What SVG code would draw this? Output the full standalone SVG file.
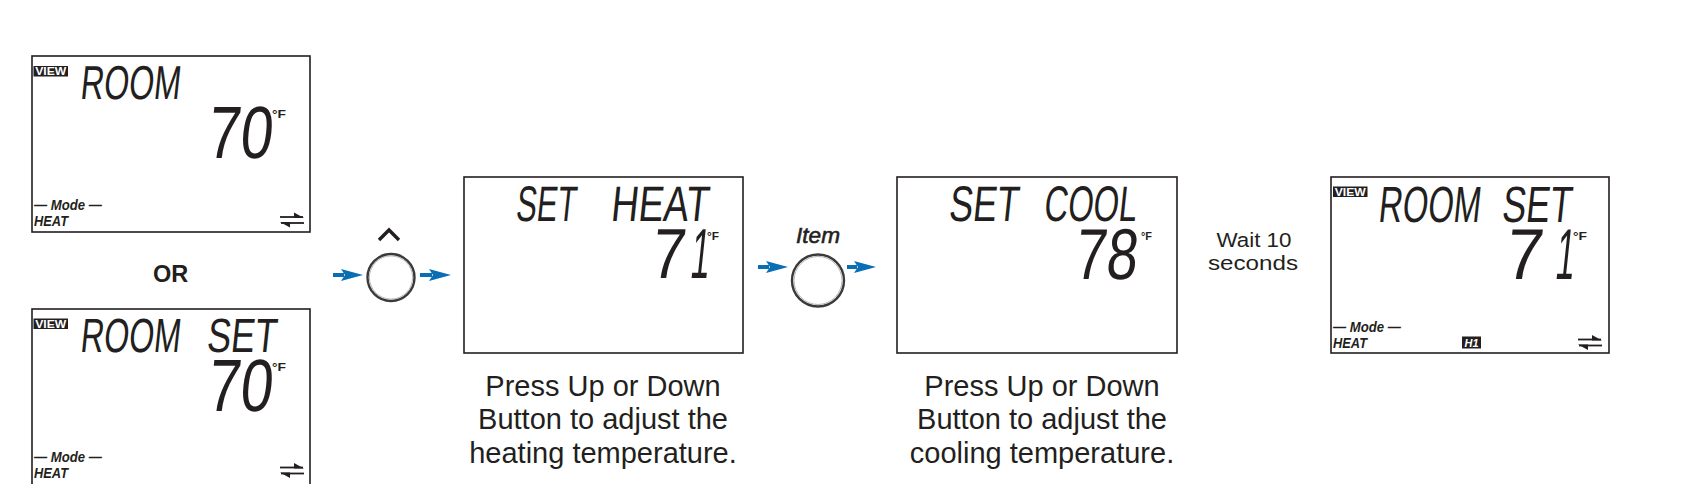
<svg xmlns="http://www.w3.org/2000/svg" xmlns:xlink="http://www.w3.org/1999/xlink" width="1689" height="484" viewBox="0 0 1689 484">
<style>
  .box { fill: #ffffff; stroke: #231f20; stroke-width: 1.6; }
  .lcd { font-family: "Liberation Sans", Arial, sans-serif; fill: #231f20; }
  .deg { font-family: "Liberation Sans", Arial, sans-serif; font-weight: bold; font-size: 11px; fill: #231f20; }
  .mode { font-family: "Liberation Sans", Arial, sans-serif; font-weight: bold; font-style: italic; fill: #231f20; }
  .badge { fill: #231f20; }
  .badgetxt { font-family: "Liberation Sans", Arial, sans-serif; font-weight: bold; font-size: 10.5px; fill: #ffffff; text-anchor: middle; }
  .cap { font-family: "Liberation Sans", Arial, sans-serif; font-size: 29px; fill: #231f20; text-anchor: middle; }
  .lbl { font-family: "Liberation Sans", Arial, sans-serif; fill: #231f20; text-anchor: middle; }
  .arrow { stroke: #0a6eb4; stroke-width: 4; fill: none; marker-end: url(#ah); }
  .btn { fill: #ffffff; stroke: #3a3a3a; stroke-width: 2.4; }
  .btnin { fill: none; stroke: #b5b5b5; stroke-width: 1; }
  .swap { stroke: #231f20; stroke-width: 1.8; fill: none; }
</style>
<defs>
  <marker id="ah" viewBox="0 0 22 12" markerWidth="22" markerHeight="12" refX="3" refY="6" orient="auto" markerUnits="userSpaceOnUse">
    <path d="M0,0 L22,6 L0,12 L4,6 Z" fill="#0a6eb4"/>
  </marker>
  <g id="swapicon">
    <line class="swap" x1="0" y1="0" x2="23" y2="0"/>
    <polygon points="24,0.9 14,-4.5 14,0.9" fill="#231f20"/>
    <line class="swap" x1="1" y1="6" x2="24" y2="6"/>
    <polygon points="0,5.1 10,10.5 10,5.1" fill="#231f20"/>
  </g>
</defs>

<rect x="0" y="0" width="1689" height="484" fill="#ffffff"/>

<g id="display-room">
  <rect class="box" x="32" y="56" width="278" height="176"/>
  <rect class="badge" x="33.5" y="66" width="34.5" height="10.5"/>
  <text class="badgetxt" x="50.7" y="75.3" textLength="31" lengthAdjust="spacingAndGlyphs">VIEW</text>
  <text class="lcd" transform="translate(79.5,99) skewX(-6)" font-size="47.5" textLength="100" lengthAdjust="spacingAndGlyphs">ROOM</text>
  <text class="lcd" transform="translate(206,158) skewX(-6)" font-size="74" textLength="65" lengthAdjust="spacingAndGlyphs">70</text>
  <text class="deg" x="272" y="118" textLength="14" lengthAdjust="spacingAndGlyphs">°F</text>
  <text class="mode" x="34" y="210" font-size="14.5" textLength="68" lengthAdjust="spacingAndGlyphs">— Mode —</text>
  <text class="mode" x="34" y="226" font-size="15" textLength="34" lengthAdjust="spacingAndGlyphs">HEAT</text>
  <use xlink:href="#swapicon" x="280" y="217"/>
</g>

<g id="or-label">
  <text class="lbl" x="170.5" y="282" font-size="23.5" font-weight="bold">OR</text>
</g>

<g id="display-room-set">
  <rect class="box" x="32" y="309" width="278" height="185"/>
  <rect class="badge" x="33.5" y="318.5" width="34.5" height="10.5"/>
  <text class="badgetxt" x="50.7" y="327.8" textLength="31" lengthAdjust="spacingAndGlyphs">VIEW</text>
  <text class="lcd" transform="translate(79.5,352) skewX(-6)" font-size="48" textLength="100" lengthAdjust="spacingAndGlyphs">ROOM</text>
  <text class="lcd" transform="translate(206,352) skewX(-6)" font-size="48" textLength="69.5" lengthAdjust="spacingAndGlyphs">SET</text>
  <text class="lcd" transform="translate(206,411) skewX(-6)" font-size="74" textLength="65" lengthAdjust="spacingAndGlyphs">70</text>
  <text class="deg" x="272" y="371" textLength="14" lengthAdjust="spacingAndGlyphs">°F</text>
  <text class="mode" x="34" y="462" font-size="14.5" textLength="68" lengthAdjust="spacingAndGlyphs">— Mode —</text>
  <text class="mode" x="34" y="478" font-size="15" textLength="34" lengthAdjust="spacingAndGlyphs">HEAT</text>
  <use xlink:href="#swapicon" x="280" y="467.5"/>
</g>

<g id="up-button">
  <path d="M379,240 L389,230 L399,240" fill="none" stroke="#231f20" stroke-width="3.4" stroke-linejoin="miter"/>
  <circle class="btn" cx="391" cy="277.5" r="23.5"/>
  <circle class="btnin" cx="391" cy="277.5" r="21.6"/>
</g>

<g id="display-set-heat">
  <rect class="box" x="464" y="177" width="279" height="176"/>
  <text class="lcd" transform="translate(515,221) skewX(-6)" font-size="50" textLength="60" lengthAdjust="spacingAndGlyphs">SET</text>
  <text class="lcd" transform="translate(610,221) skewX(-6)" font-size="50" textLength="97.7" lengthAdjust="spacingAndGlyphs">HEAT</text>
  <text class="lcd" transform="translate(650,278) skewX(-6)" font-size="71" textLength="33.4" lengthAdjust="spacingAndGlyphs">7</text>
  <text class="lcd" transform="translate(689,278) skewX(-6)" font-size="71" textLength="19" lengthAdjust="spacingAndGlyphs">1</text>
  <text class="deg" x="707" y="240" textLength="12" lengthAdjust="spacingAndGlyphs">°F</text>
</g>

<g id="caption-heat">
  <text class="cap" x="603" y="395.5">Press Up or Down</text>
  <text class="cap" x="603" y="429">Button to adjust the</text>
  <text class="cap" x="603" y="462.5">heating temperature.</text>
</g>

<g id="item-button">
  <text class="lbl" x="818" y="243" font-size="22.5" font-style="italic" stroke="#231f20" stroke-width="0.6" textLength="44" lengthAdjust="spacingAndGlyphs">Item</text>
  <circle class="btn" cx="818" cy="280.5" r="26"/>
  <circle class="btnin" cx="818" cy="280.5" r="24"/>
</g>

<g id="display-set-cool">
  <rect class="box" x="897" y="177" width="280" height="176"/>
  <text class="lcd" transform="translate(948,221) skewX(-6)" font-size="50" textLength="69.5" lengthAdjust="spacingAndGlyphs">SET</text>
  <text class="lcd" transform="translate(1043,221) skewX(-6)" font-size="50" textLength="92.8" lengthAdjust="spacingAndGlyphs">COOL</text>
  <text class="lcd" transform="translate(1073.5,279) skewX(-6)" font-size="72" textLength="62.4" lengthAdjust="spacingAndGlyphs">78</text>
  <text class="deg" x="1141" y="240" textLength="11" lengthAdjust="spacingAndGlyphs">°F</text>
</g>

<g id="caption-cool">
  <text class="cap" x="1042" y="395.5">Press Up or Down</text>
  <text class="cap" x="1042" y="429">Button to adjust the</text>
  <text class="cap" x="1042" y="462.5">cooling temperature.</text>
</g>

<g id="wait-label">
  <text class="lbl" x="1254" y="247" font-size="20.5" textLength="75" lengthAdjust="spacingAndGlyphs">Wait 10</text>
  <text class="lbl" x="1253" y="270" font-size="20.5" textLength="90" lengthAdjust="spacingAndGlyphs">seconds</text>
</g>

<g id="display-room-set-final">
  <rect class="box" x="1331" y="177" width="278" height="176"/>
  <rect class="badge" x="1333" y="186.5" width="34.5" height="10.5"/>
  <text class="badgetxt" x="1350.2" y="195.8" textLength="31" lengthAdjust="spacingAndGlyphs">VIEW</text>
  <text class="lcd" transform="translate(1377.5,222) skewX(-6)" font-size="51" textLength="102" lengthAdjust="spacingAndGlyphs">ROOM</text>
  <text class="lcd" transform="translate(1501,222) skewX(-6)" font-size="51" textLength="69.5" lengthAdjust="spacingAndGlyphs">SET</text>
  <text class="lcd" transform="translate(1504,279) skewX(-6)" font-size="72" textLength="37" lengthAdjust="spacingAndGlyphs">7</text>
  <text class="lcd" transform="translate(1554,279) skewX(-6)" font-size="72" textLength="19" lengthAdjust="spacingAndGlyphs">1</text>
  <text class="deg" x="1573" y="240" textLength="14" lengthAdjust="spacingAndGlyphs">°F</text>
  <text class="mode" x="1333" y="331.5" font-size="14.5" textLength="68" lengthAdjust="spacingAndGlyphs">— Mode —</text>
  <text class="mode" x="1333" y="347.5" font-size="15" textLength="34" lengthAdjust="spacingAndGlyphs">HEAT</text>
  <rect class="badge" x="1462" y="336.5" width="19" height="12"/>
  <text class="badgetxt" x="1471.5" y="346.8" font-style="italic" font-size="11.5" textLength="14" lengthAdjust="spacingAndGlyphs">H1</text>
  <use xlink:href="#swapicon" x="1578" y="339.5"/>
</g>

<g id="connectors">
  <line class="arrow" x1="333" y1="275" x2="344" y2="275"/>
  <line class="arrow" x1="420" y1="275" x2="432" y2="275"/>
  <line class="arrow" x1="758" y1="267" x2="769" y2="267"/>
  <line class="arrow" x1="847" y1="267" x2="857" y2="267"/>
</g>
</svg>
